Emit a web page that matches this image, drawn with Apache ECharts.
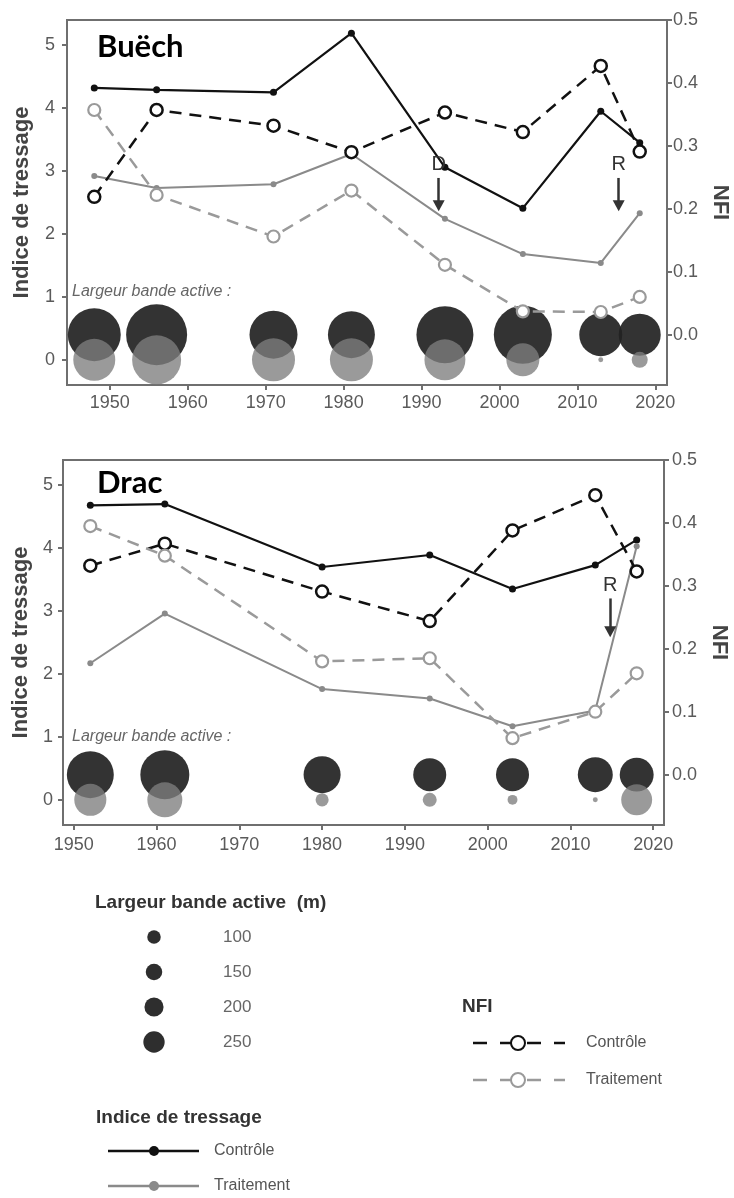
<!DOCTYPE html>
<html>
<head>
<meta charset="utf-8">
<script src="https://cdn.jsdelivr.net/npm/echarts@6/dist/echarts.min.js"></script>
<style>
html,body{margin:0;padding:0;background:#fff;}
#c{width:734px;height:1198px;}
</style>
</head>
<body>
<div id="c"></div>
<script>
// ---------- DATA ----------
const xTicks = [1950, 1960, 1970, 1980, 1990, 2000, 2010, 2020];
const leftTicks = [0, 1, 2, 3, 4, 5];
const rightTicks = [0, 0.1, 0.2, 0.3, 0.4, 0.5];

// Buëch
const buechYears = [1948, 1956, 1971, 1981, 1993, 2003, 2013, 2018];
const buechTressageCtrl = [4.32, 4.29, 4.25, 5.19, 3.06, 2.41, 3.95, 3.45];
const buechTressageTrait = [2.92, 2.73, 2.79, 3.27, 2.24, 1.68, 1.54, 2.33];
const buechNfiCtrl = [0.219, 0.357, 0.332, 0.290, 0.353, 0.322, 0.427, 0.291];
const buechNfiTrait = [0.357, 0.222, 0.156, 0.229, 0.111, 0.037, 0.036, 0.060];
const buechWidthCtrl = [229, 304, 188, 180, 265, 275, 151, 144];
const buechWidthTrait = [144, 196, 151, 151, 137, 89, 2, 21];
const buechEvents = [{label: 'D', year: 1992.2}, {label: 'R', year: 2015.3}];

// Drac
const dracYears = [1952, 1961, 1980, 1993, 2003, 2013, 2018];
const dracTressageCtrl = [4.68, 4.70, 3.70, 3.89, 3.35, 3.73, 4.13];
const dracTressageTrait = [2.17, 2.96, 1.76, 1.61, 1.17, 1.42, 4.03];
const dracNfiCtrl = [0.332, 0.367, 0.291, 0.244, 0.388, 0.444, 0.323];
const dracNfiTrait = [0.395, 0.348, 0.180, 0.185, 0.058, 0.100, 0.161];
const dracWidthCtrl = [180, 196, 112, 89, 89, 100, 94];
const dracWidthTrait = [84, 100, 14, 16, 8, 2, 78];
const dracEvents = [{label: 'R', year: 2014.8}];

const legendWidths = [100, 150, 200, 250];
const groupLabels = ['Contrôle', 'Traitement'];

// ---------- STYLE ----------
const FONT = "'Liberation Sans', Arial, sans-serif";
const AXIS_COL = '#6f6f6f';
const LABEL_COL = '#5a5a5a';
const BLACK = '#111111';
const GREY_LINE = '#8a8a8a';
const GREY_DASH = '#9a9a9a';
const BUB_CTRL = 'rgba(34,34,34,0.92)';
const BUB_TRAIT = 'rgba(126,126,126,0.78)';
const bubbleSize = v => 3.5 * Math.sqrt(v[2]);
const legendBubbleSize = w => 1.35 * Math.sqrt(w);

const zip = (xs, ys) => xs.map((x, i) => [x, ys[i]]);

const panels = [
  {years: buechYears, tc: buechTressageCtrl, tt: buechTressageTrait, nc: buechNfiCtrl, nt: buechNfiTrait,
   wc: buechWidthCtrl, wt: buechWidthTrait, events: buechEvents,
   grid: {left: 67, top: 20, width: 600, height: 365}, xmin: 1944.5, xmax: 2021.5,
   lm: 12, rm: 6, xm: 9, lg: 34, rg: 41, arrowTop: 2.89, arrowEnd: 2.45},
  {years: dracYears, tc: dracTressageCtrl, tt: dracTressageTrait, nc: dracNfiCtrl, nt: dracNfiTrait,
   wc: dracWidthCtrl, wt: dracWidthTrait, events: dracEvents,
   grid: {left: 63, top: 460, width: 601, height: 365}, xmin: 1948.7, xmax: 2021.3,
   lm: 10, rm: 8, xm: 11, lg: 30, rg: 44, arrowTop: 3.2, arrowEnd: 2.67}
];

const grids = [], xAxes = [], yAxes = [], series = [];
panels.forEach((p, i) => {
  grids.push(Object.assign({show: true, borderColor: AXIS_COL, borderWidth: 2, backgroundColor: 'transparent',
    containLabel: false, outerBoundsMode: 'none'}, p.grid));
  xAxes.push({
    type: 'value', gridIndex: i, min: p.xmin, max: p.xmax,
    axisLine: {show: false, onZero: false}, splitLine: {show: false},
    axisTick: {show: true, length: 5, customValues: xTicks, lineStyle: {color: AXIS_COL, width: 2}},
    axisLabel: {customValues: xTicks, color: LABEL_COL, fontSize: 18, fontFamily: FONT, margin: p.xm,
      formatter: v => String(v)}
  });
  yAxes.push({
    type: 'value', gridIndex: i, min: -0.4, max: 5.4, position: 'left',
    name: 'Indice de tressage', nameLocation: 'middle', nameGap: p.lg,
    nameTextStyle: {color: '#444', fontSize: 22, fontWeight: 'bold', fontFamily: FONT},
    axisLine: {show: false, onZero: false}, splitLine: {show: false},
    axisTick: {show: true, length: 5, customValues: leftTicks, lineStyle: {color: AXIS_COL, width: 2}},
    axisLabel: {customValues: leftTicks, color: LABEL_COL, fontSize: 18, fontFamily: FONT, margin: p.lm}
  });
  yAxes.push({
    type: 'value', gridIndex: i, min: -0.08, max: 0.5, position: 'right',
    name: 'NFI', nameLocation: 'middle', nameGap: p.rg, nameRotate: -90,
    nameTextStyle: {color: '#444', fontSize: 22, fontWeight: 'bold', fontFamily: FONT},
    axisLine: {show: false, onZero: false}, splitLine: {show: false},
    axisTick: {show: true, length: 5, customValues: rightTicks, lineStyle: {color: AXIS_COL, width: 2}},
    axisLabel: {customValues: rightTicks, color: LABEL_COL, fontSize: 18, fontFamily: FONT, margin: p.rm,
      formatter: v => v.toFixed(1)}
  });
  const yL = i * 2, yR = i * 2 + 1;
  // bubbles: active band width
  series.push({
    type: 'scatter', xAxisIndex: i, yAxisIndex: yL, silent: true,
    data: p.years.map((y, k) => [y, 0.4, p.wc[k]]), symbolSize: bubbleSize,
    itemStyle: {color: BUB_CTRL, opacity: 1}, z: 1
  });
  series.push({
    type: 'scatter', xAxisIndex: i, yAxisIndex: yL, silent: true,
    data: p.years.map((y, k) => [y, 0, p.wt[k]]), symbolSize: bubbleSize,
    itemStyle: {color: BUB_TRAIT, opacity: 1}, z: 1
  });
  // Indice de tressage
  series.push({
    type: 'line', xAxisIndex: i, yAxisIndex: yL, data: zip(p.years, p.tc),
    symbol: 'circle', symbolSize: 7, showAllSymbol: true,
    lineStyle: {color: BLACK, width: 2.2}, itemStyle: {color: BLACK}, z: 2,
    markLine: {
      silent: true, symbol: ['none', 'triangle'], symbolSize: [12, 11], animation: false,
      lineStyle: {color: '#333', width: 2.5, type: 'solid'},
      label: {show: true, position: 'start', distance: 3, color: '#333', fontSize: 20, fontFamily: FONT,
        formatter: prm => prm.data.name},
      data: p.events.map(e => [{name: e.label, coord: [e.year, p.arrowTop]}, {coord: [e.year, p.arrowEnd]}])
    }
  });
  series.push({
    type: 'line', xAxisIndex: i, yAxisIndex: yL, data: zip(p.years, p.tt),
    symbol: 'circle', symbolSize: 6, showAllSymbol: true,
    lineStyle: {color: GREY_LINE, width: 2}, itemStyle: {color: GREY_LINE}, z: 2
  });
  // NFI
  series.push({
    type: 'line', xAxisIndex: i, yAxisIndex: yR, data: zip(p.years, p.nc),
    symbol: 'circle', symbolSize: 12, showAllSymbol: true,
    lineStyle: {color: BLACK, width: 2.5, type: [12, 8]},
    itemStyle: {color: '#fff', borderColor: BLACK, borderWidth: 2.5}, z: 3
  });
  series.push({
    type: 'line', xAxisIndex: i, yAxisIndex: yR, data: zip(p.years, p.nt),
    symbol: 'circle', symbolSize: 12, showAllSymbol: true,
    lineStyle: {color: GREY_DASH, width: 2.5, type: [12, 8]},
    itemStyle: {color: '#fff', borderColor: GREY_DASH, borderWidth: 2.2}, z: 3
  });
});

// ---------- LEGEND / ANNOTATION GRAPHICS ----------
const graphic = [];
graphic.push({type: 'text', left: 97, top: 31, style: {text: 'Buëch', font: "bold 31px Lato, 'Open Sans', sans-serif", fill: '#000'}, z: 10});
graphic.push({type: 'text', left: 97, top: 467, style: {text: 'Drac', font: "bold 31px Lato, 'Open Sans', sans-serif", fill: '#000'}, z: 10});
[[72, 284], [72, 729]].forEach(([x, y]) => graphic.push({
  type: 'text', left: x, top: y,
  style: {text: 'Largeur bande active :', font: "italic 16px " + FONT, fill: '#666'}, z: 10
}));

const titleFont = "bold 19px " + FONT;
graphic.push({type: 'text', x: 95, y: 903, style: {text: 'Largeur bande active  (m)', font: titleFont, fill: '#333', textVerticalAlign: 'middle'}});
legendWidths.forEach((w, k) => {
  const cy = 937 + 35 * k;
  graphic.push({type: 'circle', shape: {cx: 154, cy: cy, r: legendBubbleSize(w) / 2}, style: {fill: '#2e2e2e'}});
  graphic.push({type: 'text', x: 223, y: cy, style: {text: String(w), font: "17px " + FONT, fill: '#666', textVerticalAlign: 'middle'}});
});
graphic.push({type: 'text', x: 96, y: 1118, style: {text: 'Indice de tressage', font: titleFont, fill: '#333', textVerticalAlign: 'middle'}});
[[BLACK, 1151], [GREY_LINE, 1186]].forEach(([col, y], k) => {
  graphic.push({type: 'line', shape: {x1: 108, y1: y, x2: 199, y2: y}, style: {stroke: col, lineWidth: 2.5}});
  graphic.push({type: 'circle', shape: {cx: 154, cy: y, r: 5}, style: {fill: col}});
  graphic.push({type: 'text', x: 214, y: y, style: {text: groupLabels[k], font: "16px " + FONT, fill: '#555', textVerticalAlign: 'middle'}});
});
graphic.push({type: 'text', x: 462, y: 1007, style: {text: 'NFI', font: titleFont, fill: '#333', textVerticalAlign: 'middle'}});
[[BLACK, 1043], [GREY_DASH, 1080]].forEach(([col, y], k) => {
  graphic.push({type: 'line', shape: {x1: 473, y1: y, x2: 565, y2: y}, style: {stroke: col, lineWidth: 2.5, lineDash: [14, 13]}});
  graphic.push({type: 'circle', shape: {cx: 518, cy: y, r: 7}, style: {fill: '#fff', stroke: col, lineWidth: 2}});
  graphic.push({type: 'text', x: 586, y: y, style: {text: groupLabels[k], font: "16px " + FONT, fill: '#555', textVerticalAlign: 'middle'}});
});

const chart = echarts.init(document.getElementById('c'), null, {renderer: 'canvas'});
chart.setOption({
  backgroundColor: '#fff',
  animation: false,
  textStyle: {fontFamily: FONT},
  grid: grids, xAxis: xAxes, yAxis: yAxes, series: series, graphic: graphic
});
</script>
</body>
</html>
